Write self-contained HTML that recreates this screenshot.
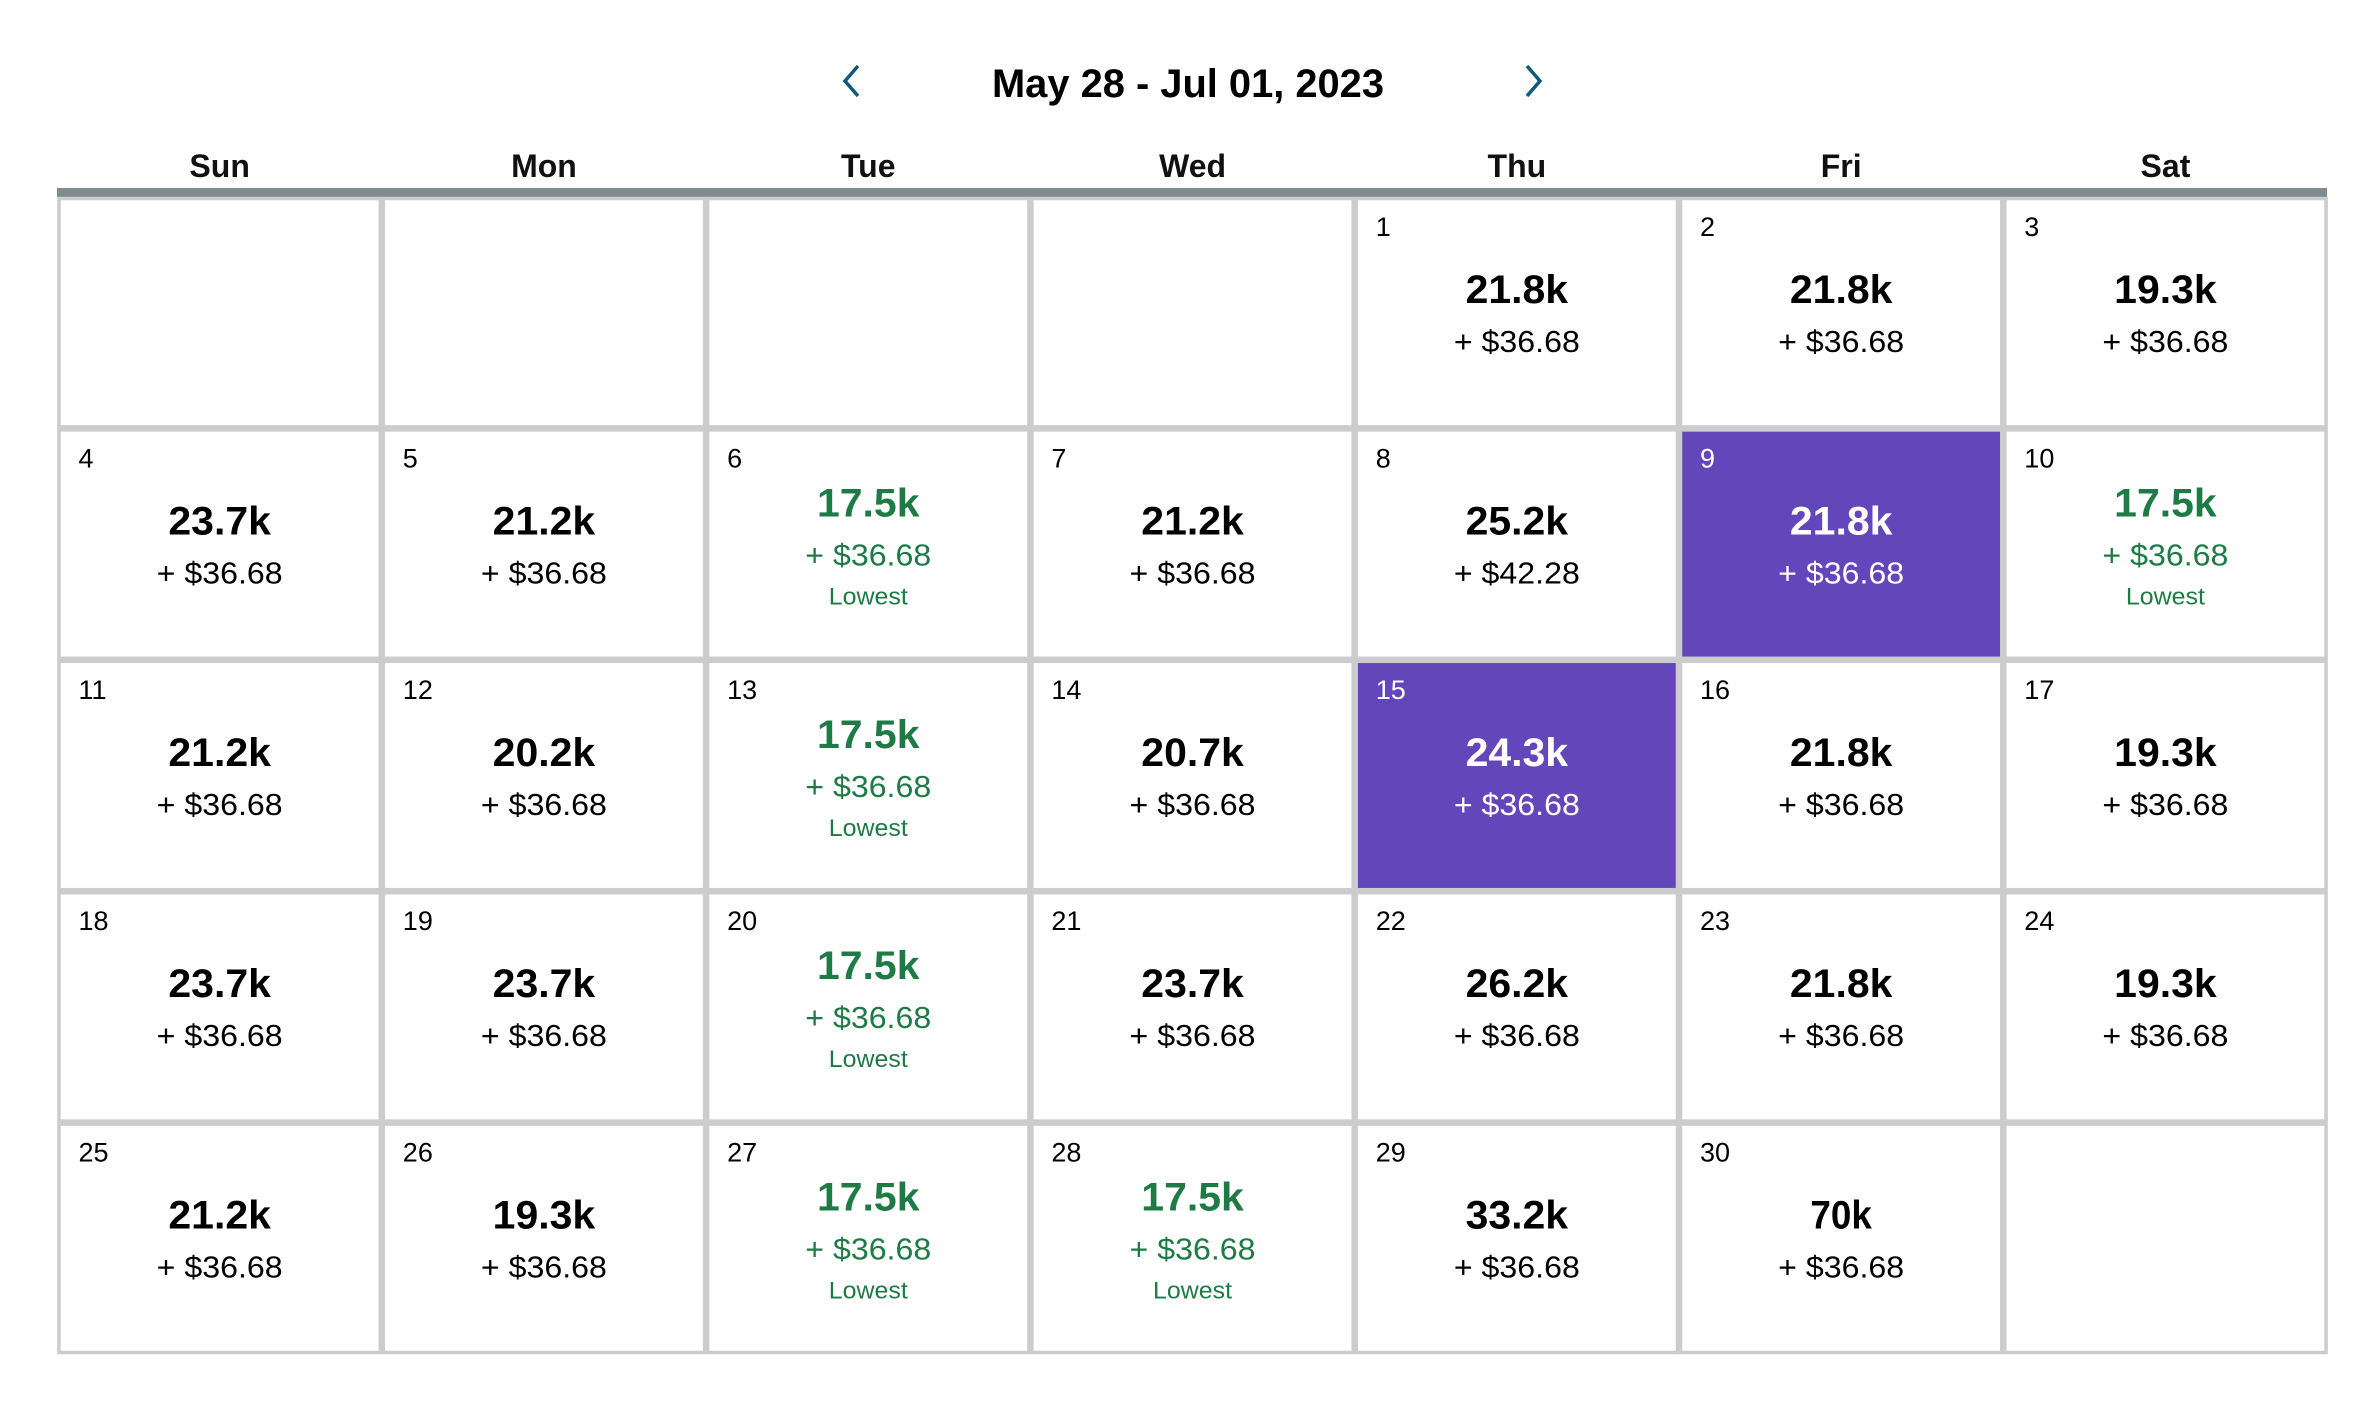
<!DOCTYPE html>
<html><head><meta charset="utf-8"><style>
html,body{margin:0;padding:0;background:#fff;}
svg{display:block;font-family:"Liberation Sans",sans-serif;}
</style></head><body>
<svg id="cal" width="2372" height="1412" viewBox="0 0 2372 1412" xmlns="http://www.w3.org/2000/svg">
<text x="1188" y="97" text-anchor="middle" font-size="40" font-weight="bold" fill="#000" textLength="392" lengthAdjust="spacingAndGlyphs">May 28 - Jul 01, 2023</text>
<path d="M858 66 L845 81 L858 96" stroke="#0e5a7a" stroke-width="3.5" fill="none"/>
<path d="M1527 66 L1540 81 L1527 96" stroke="#0e5a7a" stroke-width="3.5" fill="none"/>
<rect x="57" y="188" width="2270" height="9" fill="#7f8a91"/>
<g id="heads"></g>
<g id="cells"></g>
</svg>
<script>
const dayNames=["Sun","Mon","Tue","Wed","Thu","Fri","Sat"];
const dates=[null,null,null,null,1,2,3, 4,5,6,7,8,9,10, 11,12,13,14,15,16,17, 18,19,20,21,22,23,24, 25,26,27,28,29,30,null];
const prices=[null,null,null,null,"21.8k","21.8k","19.3k","23.7k","21.2k","17.5k","21.2k","25.2k","21.8k","17.5k","21.2k","20.2k","17.5k","20.7k","24.3k","21.8k","19.3k","23.7k","23.7k","17.5k","23.7k","26.2k","21.8k","19.3k","21.2k","19.3k","17.5k","17.5k","33.2k","70k",null];
const fees=[null,null,null,null,"36.68","36.68","36.68","36.68","36.68","36.68","36.68","42.28","36.68","36.68","36.68","36.68","36.68","36.68","36.68","36.68","36.68","36.68","36.68","36.68","36.68","36.68","36.68","36.68","36.68","36.68","36.68","36.68","36.68","36.68",null];
const lowestDates=[6,10,13,20,27,28];
const selectedDates=[9,15];
const NS="http://www.w3.org/2000/svg";
const X0=57.5,CW=324.3,Y0=197,RH=231.4;
function mk(tag,attrs,parent,txt){const e=document.createElementNS(NS,tag);for(const k in attrs)e.setAttribute(k,attrs[k]);if(txt!=null)e.textContent=txt;parent.appendChild(e);return e;}
const heads=document.getElementById('heads');
dayNames.forEach((d,i)=>{
  const t=mk('text',{x:X0+CW*(i+0.5),y:177,'text-anchor':'middle','font-size':32,'font-weight':'bold',fill:'#111'},heads,d);
  
  
});
const cells=document.getElementById('cells');
dates.forEach((d,i)=>{
  const c=i%7,r=Math.floor(i/7);
  const x=X0+c*CW,y=Y0+r*RH;
  const g=mk('g',{},cells);
  
  
  const sel=selectedDates.includes(d),low=lowestDates.includes(d);
  const rc=mk('rect',{x:x+1.5,y:y+1.5,width:CW-3,height:RH-3,fill:sel?'#6346b9':'#fff',stroke:'#cccccc','stroke-width':3.5},g);
  
  
  if(!d)return;
  const col=sel?'#fff':(low?'#1e7b45':'#000');
  const cx=x+CW/2;
  const dt=mk('text',{x:x+21,y:y+39,'font-size':27,fill:sel?'#fff':'#000'},g,String(d));
  
  
  const po=low?88:106,fo=low?137:155;
  const pl=prices[i].length;
  const p=mk('text',{x:cx,y:y+po,'text-anchor':'middle','font-size':40,'font-weight':'bold',fill:col,textLength:pl*20.5,lengthAdjust:'spacingAndGlyphs'},g,prices[i]);
  
  
  const f=mk('text',{x:cx,y:y+fo,'text-anchor':'middle','font-size':31,fill:col,textLength:126,lengthAdjust:'spacingAndGlyphs'},g,'+ $'+fees[i]);
  
  
  if(low){
    const l=mk('text',{x:cx,y:y+176,'text-anchor':'middle','font-size':24,fill:col,textLength:79,lengthAdjust:'spacingAndGlyphs'},g,'Lowest');
    
    
  }
});
</script>
</body></html>
